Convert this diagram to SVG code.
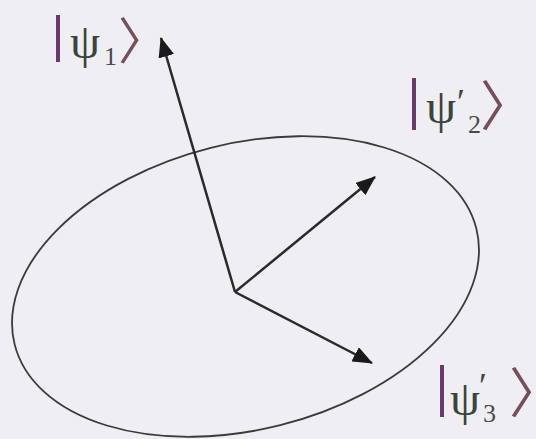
<svg xmlns="http://www.w3.org/2000/svg" width="536" height="439" viewBox="0 0 536 439">
<defs>
<marker id="ah" viewBox="0 0 20 16" refX="19" refY="8" markerWidth="20" markerHeight="16" markerUnits="userSpaceOnUse" orient="auto">
<path d="M0,0 L20,8 L0,16 z" fill="#1a1a1a"/>
</marker>
<style>
.vec{stroke:#2a2a2a;stroke-width:2.5;fill:none;marker-end:url(#ah)}
.psi{font-family:"Liberation Serif","DejaVu Serif",serif;font-size:48px;fill:#3a443c}
.sub{font-size:26px;fill:#4a4a4a}
.pr{font-size:36px;fill:#4a4040}
.bar{stroke:#6a3a6a;stroke-width:4}
.ket{font-family:"Noto Sans CJK SC","DejaVu Sans",sans-serif;font-size:54px;letter-spacing:-36px;fill:#74505a}
.ket1{font-size:50px;letter-spacing:-33px}
</style>
</defs>
<rect width="536" height="439" fill="#eeeef3"/>
<g id="ellipse">
<ellipse cx="245.5" cy="286.5" rx="238" ry="143" transform="rotate(-14.07 245.5 286.5)" fill="none" stroke="#3a3a3a" stroke-width="1.8"/>
</g>
<g id="connectors">
<line class="vec" x1="235" y1="292" x2="161" y2="38"/>
<line class="vec" x1="235" y1="292" x2="375" y2="177"/>
<line class="vec" x1="235" y1="292" x2="372" y2="363"/>
</g>
<g id="psi1">
<line class="bar" x1="58" y1="15" x2="58" y2="62"/>
<text class="psi" x="70" y="58">ψ<tspan class="sub" x="104" y="65">1</tspan></text>
<text class="ket ket1" x="118" y="59">〉</text>
</g>
<g id="psi2">
<line class="bar" x1="414" y1="78" x2="414" y2="130"/>
<text class="psi" x="426" y="123">ψ<tspan class="pr" x="457" y="114">′</tspan><tspan class="sub" x="468" y="133">2</tspan></text>
<text class="ket" x="480" y="126">〉</text>
</g>
<g id="psi3">
<line class="bar" x1="442" y1="365" x2="442" y2="417"/>
<text class="psi" x="450" y="415">ψ<tspan class="pr" x="479" y="398">′</tspan><tspan class="sub" x="483" y="422">3</tspan></text>
<text class="ket" x="509" y="413">〉</text>
</g>
</svg>
